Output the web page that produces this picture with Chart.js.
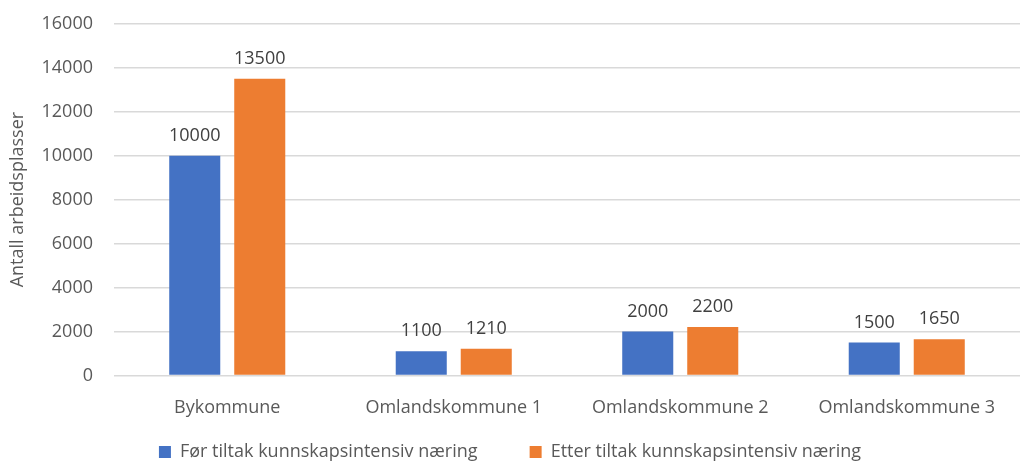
<!DOCTYPE html>
<html>
<head>
<meta charset="utf-8">
<script src="https://cdn.jsdelivr.net/npm/chart.js@4"></script>
<style>
  html, body { margin: 0; padding: 0; background: #fff; overflow: hidden; }
  #wrap { width: 1025px; height: 470px; margin-top: -8px; }
</style>
</head>
<body>
<div id="wrap"><canvas id="myChart"></canvas></div>
<script>
var kommuner = ["Bykommune", "Omlandskommune 1", "Omlandskommune 2", "Omlandskommune 3"];
var forTiltak = [10000, 1100, 2000, 1500];
var etterTiltak = [13500, 1210, 2200, 1650];
var yTicks = [0, 2000, 4000, 6000, 8000, 10000, 12000, 14000, 16000];

var tekstFarge = "#595959";
var fontFamily = "'Open Sans', sans-serif";

// skriver verdien over hver søyle
var verdiEtiketter = {
    id: "verdiEtiketter",
    afterDatasetsDraw: function (chart) {
        var ctx = chart.ctx;
        ctx.save();
        ctx.font = "18px " + fontFamily;
        ctx.fillStyle = "#404040";
        ctx.textAlign = "center";
        ctx.textBaseline = "bottom";
        chart.data.datasets.forEach(function (ds, i) {
            chart.getDatasetMeta(i).data.forEach(function (bar, j) {
                ctx.fillText(ds.data[j], bar.x, bar.y - 11);
            });
        });
        ctx.restore();
    }
};

new Chart("myChart", {
    type: "bar",
    data: {
        labels: kommuner,
        datasets: [{
            label: "Før tiltak kunnskapsintensiv næring",
            data: forTiltak,
            backgroundColor: "#4472C4",
            categoryPercentage: 0.574,
            barPercentage: 0.785
        }, {
            label: "Etter tiltak kunnskapsintensiv næring",
            data: etterTiltak,
            backgroundColor: "#ED7D31",
            categoryPercentage: 0.574,
            barPercentage: 0.785
        }]
    },
    options: {
        responsive: true,
        maintainAspectRatio: false,
        animation: false,
        layout: { padding: { top: 0, right: 5, left: 0, bottom: -9 } },
        plugins: {
            tooltip: { enabled: false },
            legend: {
                position: "bottom",
                labels: {
                    boxWidth: 12,
                    boxHeight: 12,
                    padding: 10,
                    color: tekstFarge,
                    font: { family: fontFamily, size: 18 },
                    // litt ekstra luft mellom de to forklaringene
                    generateLabels: function (chart) {
                        var items = Chart.defaults.plugins.legend.labels.generateLabels(chart);
                        items.forEach(function (item, i) {
                            if (i < items.length - 1) item.text = item.text + "         ";
                        });
                        return items;
                    }
                }
            }
        },
        scales: {
            x: {
                grid: { display: false },
                border: { display: false },
                ticks: {
                    color: tekstFarge,
                    padding: 14,
                    font: { family: fontFamily, size: 18 }
                }
            },
            y: {
                min: 0,
                max: 16000,
                afterBuildTicks: function (axis) {
                    axis.ticks = yTicks.map(function (v) { return { value: v }; });
                },
                afterFit: function (axis) { axis.width = 114; },
                grid: { color: "#D9D9D9", lineWidth: 1.5, drawTicks: false },
                border: { display: false },
                ticks: {
                    color: tekstFarge,
                    padding: 21,
                    font: { family: fontFamily, size: 18 },
                    callback: function (v) { return String(v); }
                },
                title: {
                    display: true,
                    text: "Antall arbeidsplasser",
                    color: tekstFarge,
                    padding: { top: 7, bottom: 0 },
                    font: { family: fontFamily, size: 18 }
                }
            }
        }
    },
    plugins: [verdiEtiketter]
});
</script>
</body>
</html>
